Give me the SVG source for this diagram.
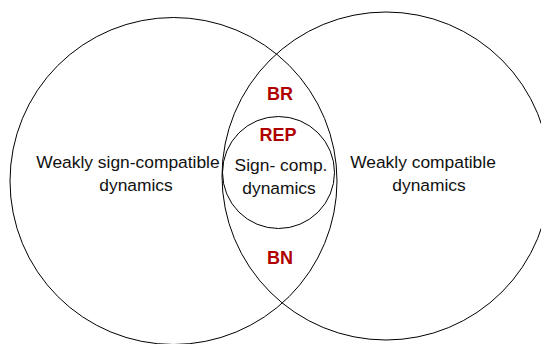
<svg xmlns="http://www.w3.org/2000/svg" width="541" height="344" viewBox="0 0 541 344">
<style>
.set{fill:none;stroke:#000;stroke-width:1}
.lbl{font-family:"Liberation Sans",Arial,sans-serif;font-size:17.4px;fill:#111;text-anchor:middle}
.red{font-family:"Liberation Sans",Arial,sans-serif;font-size:18px;font-weight:bold;fill:#b00000;text-anchor:middle}
</style>
<rect width="541" height="344" fill="#fff"/>
<g id="weakly-sign-compatible">
<circle class="set" cx="173.5" cy="181" r="163.5"/>
<text class="lbl" x="128" y="168">Weakly sign-compatible</text>
<text class="lbl" x="136" y="190.5">dynamics</text>
</g>
<g id="weakly-compatible">
<circle class="set" cx="386" cy="176" r="164"/>
<text class="lbl" x="423" y="167.5">Weakly compatible</text>
<text class="lbl" x="429" y="190.5">dynamics</text>
</g>
<g id="sign-compatible">
<circle class="set" cx="278.5" cy="172.5" r="56"/>
<text class="lbl" x="281" y="171">Sign- comp.</text>
<text class="lbl" x="279" y="194">dynamics</text>
</g>
<g id="BR"><text class="red" x="280" y="100">BR</text></g>
<g id="REP"><text class="red" x="278" y="140.5">REP</text></g>
<g id="BN"><text class="red" x="280" y="264">BN</text></g>
<g id="connectors"/>
</svg>
